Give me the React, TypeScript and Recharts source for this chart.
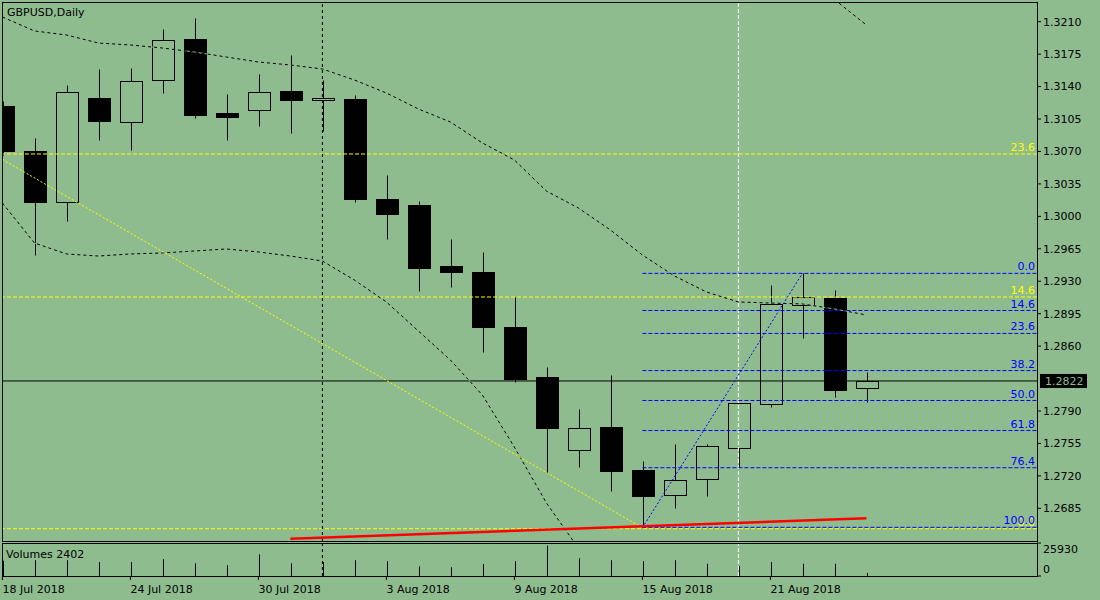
import { ComposedChart, Bar, Line, XAxis, YAxis, ReferenceLine } from "recharts";

const BG = "#8fbc8f";
const FONT = "DejaVu Sans";

// daily candles, GBPUSD
const dates = [
  "18 Jul", "19 Jul", "20 Jul", "23 Jul", "24 Jul", "25 Jul", "26 Jul", "27 Jul",
  "30 Jul", "31 Jul", "1 Aug", "2 Aug", "3 Aug", "6 Aug", "7 Aug", "8 Aug",
  "9 Aug", "10 Aug", "13 Aug", "14 Aug", "15 Aug", "16 Aug", "17 Aug", "20 Aug",
  "21 Aug", "22 Aug", "23 Aug", "24 Aug",
];
const opens = [
  1.3119, 1.30705, 1.30158, 1.31277, 1.31021, 1.31468, 1.31913, 1.31115,
  1.31144, 1.31352, 1.31252, 1.31266, 1.30187, 1.30122, 1.29464, 1.294,
  1.28806, 1.28267, 1.27476, 1.27727, 1.27263, 1.2699, 1.27163, 1.27498,
  1.27972, 1.2904, 1.29119, 1.28145,
];
const highs = [
  1.3124, 1.30849, 1.31417, 1.3159, 1.31601, 1.32021, 1.3214, 1.3132,
  1.31536, 1.31741, 1.31471, 1.31309, 1.30446, 1.30166, 1.29756, 1.29615,
  1.29127, 1.28378, 1.27922, 1.28288, 1.2736, 1.27544, 1.2754, 1.2799,
  1.29259, 1.29385, 1.29205, 1.28321,
];
const lows = [
  1.3066, 1.29583, 1.29953, 1.30827, 1.30716, 1.31334, 1.31064, 1.30827,
  1.30978, 1.30902, 1.30924, 1.30158, 1.29759, 1.29198, 1.29241, 1.2854,
  1.2821, 1.27234, 1.27299, 1.2704, 1.2664, 1.26857, 1.26986, 1.27296,
  1.27946, 1.28691, 1.28054, 1.28,
];
const closes = [
  1.30705, 1.30158, 1.31342, 1.31032, 1.3146, 1.319, 1.31097, 1.31075,
  1.31338, 1.31258, 1.31277, 1.3019, 1.30029, 1.29446, 1.29403, 1.28809,
  1.28248, 1.2772, 1.27713, 1.27256, 1.26986, 1.27152, 1.27519, 1.27983,
  1.29054, 1.29127, 1.2813, 1.28224,
];
const volumes = [
  12000, 12460, 12460, 10930, 10930, 13220, 9910, 8390,
  17030, 9910, 11000, 12460, 11690, 7630, 6860, 9410,
  11690, 23900, 13980, 12460, 11690, 12460, 9660, 7880,
  10930, 9660, 9660, 2402,
];

// Bollinger bands (upper mostly off the top of the chart)
const bandMid = [
  1.32151, 1.32, 1.31957, 1.3187, 1.31849, 1.31816, 1.31773, 1.31719,
  1.31665, 1.31633, 1.3159, 1.31471, 1.31331, 1.31158, 1.31018, 1.30792,
  1.30608, 1.30273, 1.3009, 1.29853, 1.29583, 1.29357, 1.29184, 1.29076,
  1.29065, 1.29055, 1.29001, 1.28936,
];
const bandLow = [
  1.30144, 1.29713, 1.29594, 1.29572, 1.29594, 1.29605, 1.29626, 1.29648,
  1.29616, 1.29572, 1.29518, 1.29313, 1.29076, 1.28763, 1.2845, 1.28072,
  1.2751, 1.26908, 1.2642,
];
const bandUp: (number | null)[] = [
  null, null, null, null, null, null, null, null, null, null, null, null, null, null,
  null, null, null, null, null, null, null, null, null, null, null, null, 1.3234, 1.32064,
];

const priceTicks = [
  1.2685, 1.272, 1.2755, 1.279, 1.286, 1.2895, 1.293, 1.2965,
  1.3, 1.3035, 1.307, 1.3105, 1.314, 1.3175, 1.321,
];
const dateTicks = [0, 4, 8, 12, 16, 20, 24];
const volumeTicks = [0, 25930];

const blueFibLabels = ["0.0", "14.6", "23.6", "38.2", "50.0", "61.8", "76.4", "100.0"];
const blueFibPrices = [1.29385, 1.28984, 1.28737, 1.28336, 1.28013, 1.27689, 1.27288, 1.26645];
const blueFibStart = 20;

const yellowFibLabels = ["0.0", "14.6", "23.6"];
const yellowFibPrices = [1.2663, 1.2913, 1.30673];

const yellowTrend = [
  { i: 0, v: 1.30614 },
  { i: 20, v: 1.2664 },
];
const blueTrend = [
  { i: 20, v: 1.2664 },
  { i: 25, v: 1.29385 },
];
const redLine = [
  { i: 9, v: 1.26521 },
  { i: 27, v: 1.26742 },
];

const lastPrice = closes[closes.length - 1];
const monthSeparator = 10;
const markedDay = 23;

const X_DOMAIN: [number, number] = [0.01875, 32.33125];
const PRICE_DOMAIN: [number, number] = [1.2649746, 1.3231254];

const rows = dates.map((date, i) => ({
  i,
  date,
  open: opens[i],
  high: highs[i],
  low: lows[i],
  close: closes[i],
  vol: volumes[i],
  mid: bandMid[i],
  lower: bandLow[i] ?? null,
  upper: bandUp[i],
}));

const Candle = (props: any) => {
  const { x, y, width, height, payload } = props;
  if (x == null || y == null || !payload) return null;
  const { open, high, low, close } = payload;
  const top = Math.min(y, y + height);
  const h = Math.abs(height);
  const toY = (p: number) => top + ((high - p) / (high - low)) * h;
  const cx = Math.round(x + width / 2) + 0.5;
  const yH = Math.round(top) + 0.5;
  const yL = Math.round(top + h) + 0.5;
  const yO = Math.round(toY(open)) + 0.5;
  const yC = Math.round(toY(close)) + 0.5;
  const bodyTop = Math.min(yO, yC);
  const bodyBot = Math.max(yO, yC);
  const bull = close >= open;
  return (
    <g>
      <line x1={cx} x2={cx} y1={yH} y2={bodyTop} stroke="#000" />
      <line x1={cx} x2={cx} y1={bodyBot} y2={yL} stroke="#000" />
      <rect
        x={cx - 11}
        y={bodyTop}
        width={22}
        height={Math.max(bodyBot - bodyTop, 1)}
        fill={bull ? "none" : "#000"}
        stroke="#000"
      />
    </g>
  );
};

const VolumeBar = (props: any) => {
  const { x, y, width, height } = props;
  if (x == null || y == null) return null;
  const cx = Math.round(x + width / 2) + 0.5;
  return <line x1={cx} x2={cx} y1={y} y2={y + height} stroke="#000" />;
};

const fibLabel = (text: string, color: string) => (props: any) => {
  const vb = props.viewBox;
  if (!vb) return null;
  return (
    <text
      x={vb.x + vb.width - 2}
      y={vb.y - 3}
      textAnchor="end"
      fill={color}
      fontSize={11}
      fontFamily={FONT}
    >
      {text}
    </text>
  );
};

const priceBox = (props: any) => {
  const vb = props.viewBox;
  if (!vb) return null;
  const left = vb.x + vb.width + 3;
  return (
    <g>
      <rect x={left} y={vb.y - 7} width={47} height={14} fill="#000" />
      <text x={left + 5} y={vb.y + 4} fill={BG} fontSize={11} fontFamily={FONT}>
        {lastPrice.toFixed(4)}
      </text>
    </g>
  );
};

const DateTick = (props: any) => {
  const { x, y, payload } = props;
  const idx = payload?.value;
  return (
    <text x={x} y={y} dy={11} textAnchor="start" fill="#000" fontSize={11} fontFamily={FONT}>
      {`${dates[idx]} 2018`}
    </text>
  );
};

const VolumeTick = (props: any) => {
  const { x, y, payload } = props;
  const v = payload?.value;
  return (
    <text x={x} y={y} dy={v === 0 ? -3 : 10} textAnchor="start" fill="#000" fontSize={11} fontFamily={FONT}>
      {v}
    </text>
  );
};

const axisTick = { fill: "#000", fontSize: 11, fontFamily: FONT };

export default function App() {
  return (
    <div
      style={{
        position: "fixed",
        left: 0,
        top: 0,
        width: 1100,
        height: 600,
        background: BG,
        overflow: "hidden",
        fontFamily: FONT,
      }}
    >
      <div style={{ position: "absolute", left: 0, top: 0 }}>
        <ComposedChart width={1100} height={541} data={rows} margin={{ top: 2, right: 0, bottom: 0, left: 3 }}>
          <XAxis type="number" dataKey="i" domain={X_DOMAIN} allowDataOverflow hide />
          <YAxis
            orientation="right"
            type="number"
            domain={PRICE_DOMAIN}
            allowDataOverflow
            ticks={priceTicks}
            interval={0}
            width={63}
            axisLine={false}
            tickLine={{ stroke: "#000" }}
            tickSize={4}
            tickMargin={2}
            tick={axisTick}
            tickFormatter={(v: number) => v.toFixed(4)}
          />
          {yellowFibPrices.map((p, k) => (
            <ReferenceLine
              key={`yf-${k}`}
              y={p}
              stroke="#ffff00"
              strokeDasharray="4 2"
              label={fibLabel(yellowFibLabels[k], "#ffff00")}
            />
          ))}
          <ReferenceLine x={monthSeparator} stroke="#000" strokeDasharray="3 3" />
          <ReferenceLine x={markedDay} stroke="#ffffff" strokeDasharray="4 2" />
          <Bar
            dataKey={(d: any) => [d.low, d.high]}
            shape={Candle}
            isAnimationActive={false}
          />
          <ReferenceLine y={lastPrice} stroke="#000" label={priceBox} />
          {blueFibPrices.map((p, k) => (
            <ReferenceLine
              key={`bf-${k}`}
              segment={[
                { x: blueFibStart, y: p },
                { x: X_DOMAIN[1], y: p },
              ]}
              stroke="#0000ff"
              strokeDasharray="4 2"
              label={fibLabel(blueFibLabels[k], "#0000ff")}
            />
          ))}
          <Line dataKey="mid" stroke={BG} dot={false} activeDot={false} isAnimationActive={false} />
          <Line dataKey="mid" stroke="#000" strokeDasharray="3 3" dot={false} activeDot={false} isAnimationActive={false} />
          <Line dataKey="lower" stroke={BG} dot={false} activeDot={false} isAnimationActive={false} />
          <Line dataKey="lower" stroke="#000" strokeDasharray="3 3" dot={false} activeDot={false} isAnimationActive={false} />
          <Line dataKey="upper" stroke="#000" strokeDasharray="3 3" dot={false} activeDot={false} isAnimationActive={false} />
          <Line data={yellowTrend} dataKey="v" stroke="#ffff00" strokeDasharray="2 2" dot={false} activeDot={false} isAnimationActive={false} />
          <Line data={blueTrend} dataKey="v" stroke="#0000ff" strokeDasharray="2 2" dot={false} activeDot={false} isAnimationActive={false} />
          <Line data={redLine} dataKey="v" stroke="#ff0000" strokeWidth={2.5} dot={false} activeDot={false} isAnimationActive={false} />
        </ComposedChart>
      </div>
      <div style={{ position: "absolute", left: 0, top: 541 }}>
        <ComposedChart width={1100} height={59} data={rows} margin={{ top: 2, right: 0, bottom: 0, left: 3 }}>
          <XAxis
            type="number"
            dataKey="i"
            domain={X_DOMAIN}
            allowDataOverflow
            ticks={dateTicks}
            interval={0}
            height={24}
            axisLine={false}
            tickLine={{ stroke: "#000" }}
            tickSize={4}
            tickMargin={2}
            tick={<DateTick />}
          />
          <YAxis
            orientation="right"
            type="number"
            domain={[0, 25930]}
            allowDataOverflow
            ticks={volumeTicks}
            interval={0}
            width={63}
            axisLine={false}
            tickLine={{ stroke: "#000" }}
            tickSize={4}
            tickMargin={2}
            tick={<VolumeTick />}
          />
          <Bar dataKey="vol" shape={VolumeBar} isAnimationActive={false} />
          <ReferenceLine x={monthSeparator} stroke="#000" strokeDasharray="3 3" />
          <ReferenceLine x={markedDay} stroke="#ffffff" strokeDasharray="4 2" />
        </ComposedChart>
      </div>
      <svg
        width={1100}
        height={600}
        style={{ position: "absolute", left: 0, top: 0, pointerEvents: "none" }}
      >
        <rect x={2.5} y={2.5} width={1035} height={539} fill="none" stroke="#000" />
        <rect x={2.5} y={543.5} width={1035} height={33} fill="none" stroke="#000" />
        <text x={7} y={15.5} fill="#000" fontSize={11} fontFamily={FONT}>
          GBPUSD,Daily
        </text>
        <text x={6} y={558} fill="#000" fontSize={11} fontFamily={FONT}>
          {`Volumes ${volumes[volumes.length - 1]}`}
        </text>
      </svg>
    </div>
  );
}
